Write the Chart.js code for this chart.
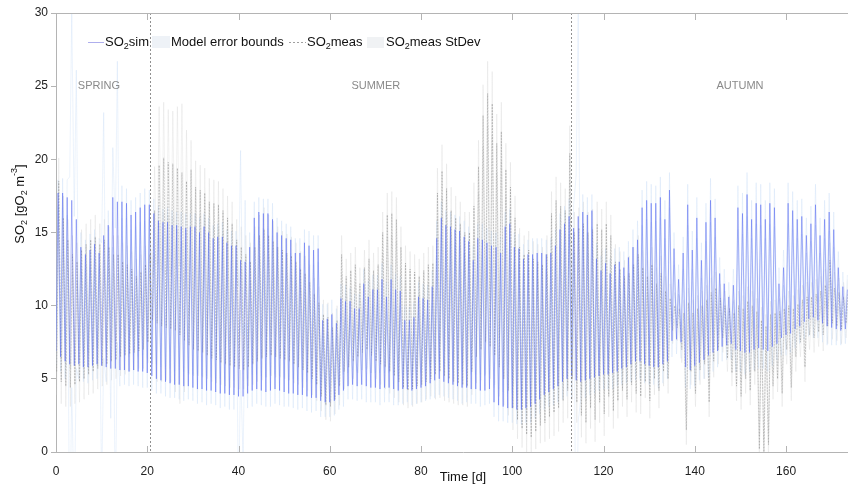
<!DOCTYPE html>
<html>
<head>
<meta charset="utf-8">
<title>SO2 simulated vs measured</title>
<script src="https://cdn.jsdelivr.net/npm/chart.js@4.4.1/dist/chart.umd.min.js"></script>
<style>
  html, body { margin: 0; padding: 0; background: #fff; overflow: hidden; }
  #wrap { width: 848px; height: 485px; overflow: hidden; }
</style>
</head>
<body>
<div id="wrap"><canvas id="so2" width="882" height="485"></canvas></div>
<script>
// daily peak / trough of measured SO2 [gO2 m-3], day 0 .. 173
const measHi = [
  17.7, 17.7, 17.4, 17.2, 15.9, 14.0, 13.5, 13.8, 14.2, 13.6,
  14.8, 15.5, 17.4, 17.1, 17.1, 17.0, 16.2, 16.4, 16.7, 16.9,
  16.9, 16.3, 15.8, 15.7, 15.7, 15.5, 15.5, 15.4, 15.3, 15.4,
  15.4, 15.0, 15.4, 15.0, 14.6, 14.7, 14.7, 14.3, 14.1, 14.1,
  13.1, 13.0, 14.0, 16.0, 16.4, 16.3, 16.3, 15.9, 15.0, 14.8,
  14.6, 14.5, 13.6, 13.6, 14.3, 14.1, 13.8, 13.9, 9.0, 9.1,
  9.4, 8.8, 10.5, 10.3, 10.3, 9.8, 9.8, 11.5, 10.6, 11.1,
  11.1, 11.8, 10.6, 11.8, 11.1, 11.0, 9.0, 9.0, 9.2, 10.6,
  10.5, 10.4, 11.3, 14.6, 16.0, 15.5, 15.4, 15.2, 15.1, 14.7,
  14.4, 13.1, 14.6, 14.5, 14.3, 14.1, 14.0, 13.6, 15.4, 15.6,
  14.0, 13.9, 13.2, 13.5, 13.5, 13.6, 13.6, 13.5, 13.6, 14.1,
  15.2, 15.6, 16.1, 15.3, 16.1, 16.4, 16.2, 16.5, 13.2, 12.4,
  12.9, 12.2, 12.8, 13.0, 12.6, 13.3, 14.0, 14.5, 16.7, 17.2,
  17.0, 17.0, 17.4, 15.9, 17.9, 13.9, 11.8, 13.6, 16.9, 13.8,
  16.0, 13.1, 15.7, 17.2, 16.0, 12.2, 11.5, 10.6, 11.4, 16.7,
  16.3, 17.6, 15.9, 17.0, 16.9, 15.9, 17.0, 16.7, 11.5, 12.6,
  17.0, 16.5, 15.9, 16.1, 14.8, 15.6, 16.9, 14.8, 15.9, 16.4,
  15.2, 12.6, 11.3, 11.1
];
const measLo = [
  6.9, 6.5, 6.2, 6.0, 5.9, 6.0, 5.8, 5.8, 5.9, 6.0,
  5.9, 5.8, 5.7, 5.7, 5.6, 5.6, 5.5, 5.6, 5.5, 5.5,
  5.4, 5.2, 5.0, 4.9, 4.8, 4.7, 4.6, 4.6, 4.5, 4.5,
  4.4, 4.3, 4.3, 4.2, 4.2, 4.1, 4.0, 4.0, 3.9, 3.9,
  3.8, 3.8, 4.0, 4.2, 4.3, 4.2, 4.1, 4.2, 4.3, 4.2,
  4.1, 4.0, 4.0, 3.9, 3.9, 3.8, 3.7, 3.7, 3.5, 3.4,
  3.4, 3.5, 3.9, 4.2, 4.5, 4.6, 4.5, 4.6, 4.5, 4.4,
  4.4, 4.3, 4.4, 4.4, 4.3, 4.2, 4.3, 4.3, 4.2, 4.3,
  4.4, 4.5, 4.7, 4.9, 5.0, 4.8, 4.7, 4.6, 4.5, 4.4,
  4.4, 4.3, 4.3, 4.2, 4.2, 4.3, 3.4, 3.2, 3.1, 3.0,
  3.0, 2.9, 2.9, 3.0, 3.1, 3.3, 3.6, 3.9, 4.1, 4.3,
  4.5, 4.8, 5.0, 5.2, 4.9, 4.8, 4.9, 5.0, 5.1, 5.2,
  5.3, 5.3, 5.4, 5.5, 5.7, 5.8, 6.0, 6.2, 6.2, 6.0,
  5.9, 5.8, 5.8, 6.0, 6.2, 7.6, 7.7, 7.5, 5.8, 5.6,
  5.9, 6.1, 6.3, 6.6, 6.8, 6.9, 7.2, 7.3, 7.4, 7.0,
  6.9, 6.8, 6.8, 7.0, 7.1, 7.0, 6.9, 7.2, 7.4, 7.8,
  8.0, 8.1, 8.4, 8.6, 8.9, 9.1, 9.2, 9.0, 8.8, 8.6,
  8.5, 8.4, 8.3, 8.4
];
// standard deviation of the measurements, per day
const measSd = [
  0.9, 1.0, 1.2, 12.8, 10.2, 1.0, 1.0, 1.1, 1.0, 1.0,
  8.4, 1.0, 3.4, 9.6, 1.1, 1.0, 1.0, 1.0, 1.0, 1.1,
  1.0, 1.0, 1.0, 0.9, 1.0, 1.0, 0.9, 1.0, 1.0, 0.9,
  0.9, 1.0, 0.9, 1.0, 0.9, 0.9, 1.0, 0.9, 1.0, 1.0,
  7.5, 4.2, 1.0, 1.1, 1.0, 1.0, 1.0, 1.1, 1.0, 1.0,
  1.0, 0.9, 1.0, 1.0, 0.9, 1.0, 1.0, 0.9, 1.1, 1.0,
  1.0, 1.0, 1.0, 1.1, 0.9, 1.0, 1.0, 1.0, 1.1, 1.0,
  1.0, 1.1, 1.0, 1.0, 1.1, 1.0, 1.0, 0.9, 1.0, 1.0,
  1.0, 1.0, 1.1, 1.2, 1.1, 1.0, 1.0, 1.0, 1.0, 1.1,
  1.0, 1.0, 1.0, 1.1, 1.0, 1.0, 1.0, 1.1, 1.0, 1.0,
  1.0, 1.0, 1.0, 1.0, 1.1, 1.0, 1.0, 1.0, 1.0, 1.1,
  1.1, 1.2, 1.2, 1.6, 14.0, 1.2, 1.2, 1.1, 1.1, 1.0,
  1.0, 1.0, 1.1, 1.0, 1.1, 1.1, 1.2, 1.3, 1.2, 1.3,
  1.3, 1.2, 1.4, 1.3, 1.2, 1.1, 1.0, 1.1, 1.4, 1.3,
  1.4, 1.2, 1.3, 1.5, 1.3, 1.1, 1.0, 1.0, 1.1, 1.5,
  1.4, 1.5, 1.3, 1.4, 1.4, 1.3, 1.4, 1.3, 1.1, 1.2,
  1.4, 1.3, 1.3, 1.2, 1.2, 1.2, 1.4, 1.2, 1.3, 1.3,
  1.2, 1.1, 1.0, 1.0
];
// daily peak / trough of simulated SO2
const simHi = [
  18.5, 16.0, 14.5, 13.5, 13.0, 13.8, 14.2, 14.5, 14.7, 14.2,
  14.5, 14.0, 13.5, 13.5, 13.0, 12.8, 12.5, 12.0, 12.3, 12.8,
  13.5, 16.5, 19.6, 20.1, 19.8, 19.7, 19.4, 19.1, 18.5, 19.3,
  18.1, 17.9, 17.7, 17.1, 17.0, 16.9, 16.5, 16.0, 15.6, 14.5,
  14.0, 13.5, 13.0, 14.0, 14.8, 15.2, 14.8, 14.4, 14.0, 13.8,
  13.6, 13.4, 13.0, 12.5, 12.2, 11.6, 10.8, 10.2, 9.4, 9.2,
  8.5, 9.0, 13.5, 12.0, 12.4, 12.8, 11.5, 12.6, 13.2, 12.4,
  12.8, 15.0, 16.2, 16.3, 15.9, 14.0, 12.9, 12.5, 12.3, 12.0,
  12.4, 12.8, 12.9, 17.7, 19.2, 18.0, 16.5, 16.0, 15.6, 15.0,
  15.0, 16.8, 19.5, 23.0, 24.5, 23.8, 21.1, 21.9, 19.3, 18.1,
  16.0, 14.0, 13.5, 13.8, 13.2, 13.0, 12.8, 13.5, 16.3, 17.2,
  16.8, 16.5, 20.4, 15.0, 15.3, 15.6, 15.0, 15.2, 15.6, 15.2,
  15.6, 14.8, 13.0, 12.5, 12.0, 12.2, 12.8, 13.5, 12.6, 12.0,
  12.8, 11.5, 12.2, 11.0, 10.5, 10.0, 9.8, 9.5, 10.2, 9.5,
  9.8, 10.0, 10.4, 10.9, 11.2, 10.5, 10.0, 9.8, 9.5, 10.0,
  9.8, 10.3, 10.0, 9.6, 9.0, 8.6, 9.4, 9.5, 9.6, 9.8,
  10.0, 9.8, 10.1, 10.4, 10.6, 10.6, 10.8, 11.0, 11.4, 13.1,
  11.2, 10.9, 10.6, 10.8
];
const simLo = [
  5.5, 4.8, 4.5, 4.4, 4.6, 4.8, 5.0, 5.3, 5.5, 5.7,
  5.9, 6.0, 6.2, 6.3, 6.5, 6.6, 6.7, 6.8, 6.9, 7.0,
  7.5, 9.0, 8.8, 8.6, 8.5, 8.4, 8.3, 8.0, 7.6, 7.3,
  7.0, 6.9, 6.8, 6.6, 6.4, 6.3, 6.1, 6.0, 5.9, 5.8,
  5.7, 5.6, 5.8, 6.0, 6.2, 6.4, 6.5, 6.6, 6.5, 6.4,
  6.3, 6.2, 6.0, 5.8, 5.6, 5.4, 5.0, 4.6, 3.8, 3.2,
  3.1, 3.6, 4.5, 5.5, 5.8, 6.2, 6.5, 6.8, 7.0, 6.6,
  6.2, 6.0, 5.8, 5.5, 5.2, 4.8, 4.4, 4.2, 4.3, 4.5,
  4.6, 4.8, 5.0, 5.3, 5.5, 5.2, 5.0, 4.8, 4.7, 4.6,
  4.5, 5.5, 6.5, 7.0, 7.5, 7.2, 6.6, 5.8, 5.0, 4.2,
  3.0, 2.2, 1.6, 1.2, 1.0, 1.4, 1.8, 2.0, 2.4, 2.7,
  3.0, 3.5, 4.2, 5.0, 3.4, 2.5, 2.0, 3.0, 2.2, 3.4,
  2.6, 3.8, 2.8, 3.5, 4.2, 3.6, 4.6, 4.0, 3.8, 4.8,
  3.5, 5.0, 4.2, 5.5, 5.0, 8.3, 8.5, 7.0, 1.5, 5.5,
  4.0, 5.6, 6.0, 3.4, 6.2, 7.0, 7.8, 6.4, 5.4, 4.5,
  3.8, 5.0, 4.2, 5.5, 0.2, 0.0, 0.5, 4.5, 5.0, 4.0,
  7.0, 4.4, 6.5, 7.5, 5.8, 8.0, 7.8, 8.2, 8.0, 8.6,
  8.8, 8.6, 8.4, 8.8
];
// half width of the model error band, per day
const simErr = [
  1.6, 1.5, 1.4, 1.3, 1.3, 1.4, 1.4, 1.4, 1.5, 1.4,
  1.4, 1.4, 1.3, 1.3, 1.3, 1.3, 1.2, 1.2, 1.2, 1.3,
  1.4, 3.0, 4.0, 3.8, 3.6, 3.6, 4.2, 4.7, 3.5, 2.0,
  1.8, 1.7, 1.7, 1.6, 1.6, 1.6, 1.5, 1.5, 1.5, 1.4,
  1.4, 1.3, 1.3, 1.4, 1.4, 1.5, 1.4, 1.4, 1.4, 1.3,
  1.3, 1.3, 1.3, 1.2, 1.2, 1.2, 1.1, 1.1, 1.0, 1.0,
  1.0, 1.0, 1.3, 1.2, 1.2, 1.2, 1.1, 1.2, 1.3, 1.2,
  1.2, 1.4, 1.5, 1.5, 1.5, 1.4, 1.2, 1.2, 1.2, 1.2,
  1.2, 1.2, 1.2, 1.7, 1.8, 1.7, 1.6, 1.5, 1.5, 1.4,
  1.4, 1.6, 1.8, 2.1, 2.2, 2.2, 2.0, 2.0, 1.8, 1.7,
  1.5, 1.3, 1.3, 1.3, 1.2, 1.2, 1.2, 1.3, 1.5, 1.6,
  1.6, 1.5, 1.9, 1.4, 1.4, 1.5, 1.4, 1.4, 1.5, 1.4,
  1.5, 1.4, 1.2, 1.2, 1.1, 1.2, 1.2, 1.3, 1.2, 1.1,
  1.2, 1.1, 1.2, 1.0, 1.0, 0.9, 0.9, 0.9, 1.0, 0.9,
  0.9, 1.0, 1.0, 1.0, 1.1, 1.0, 1.0, 0.9, 0.9, 1.0,
  0.9, 1.0, 1.0, 0.9, 0.9, 0.8, 0.9, 0.9, 0.9, 0.9,
  1.0, 0.9, 1.0, 1.0, 1.0, 1.0, 1.0, 1.0, 1.1, 1.2,
  1.1, 1.0, 1.0, 1.0
];

const xTicks = [0, 20, 40, 60, 80, 100, 120, 140, 160];
const yTicks = [0, 5, 10, 15, 20, 25, 30];
const seasonBreaks = [20.6, 112.9];
const seasonNames = ['SPRING', 'SUMMER', 'AUTUMN'];
const seasonLabelDays = [9.4, 70.1, 149.9];

const SANS = "'Liberation Sans', Arial, sans-serif";

// trough at the start of each day, peak a bit later
function dailyCurve(lo, hi, loAt, hiAt, shift) {
  const pts = [];
  for (let d = 0; d < lo.length; d++) {
    const s = shift ? shift[d] : 0;
    pts.push({ x: d + loAt, y: lo[d] + s });
    pts.push({ x: d + hiAt, y: hi[d] + s });
  }
  return pts;
}
const neg = a => a.map(v => -v);

const measLine = dailyCurve(measLo, measHi, 0, 0.45);
const sdUpper = dailyCurve(measLo, measHi, 0, 0.45, measSd);
const sdLower = dailyCurve(measLo, measHi, 0, 0.45, neg(measSd));
const simLine = dailyCurve(simLo, simHi, 0.15, 0.6);
const errUpper = dailyCurve(simLo, simHi, 0.15, 0.6, simErr);
const errLower = dailyCurve(simLo, simHi, 0.15, 0.6, neg(simErr));

const line = (data, color, width, order, extra) => Object.assign({
  data, borderColor: color, borderWidth: width, pointRadius: 0,
  tension: 0, fill: false, order
}, extra || {});

// draw text pieces with sub / superscripts, returns the end x
function richText(ctx, x, y, parts, size) {
  parts.forEach(([t, kind]) => {
    const sz = kind ? Math.round(size * 0.72) : size;
    const dy = kind === 'sub' ? size * 0.35 : kind === 'sup' ? -size * 0.4 : 0;
    ctx.font = sz + 'px ' + SANS;
    ctx.fillText(t, x, y + dy);
    x += ctx.measureText(t).width;
  });
  return x;
}
function richWidth(ctx, parts, size) {
  let w = 0;
  parts.forEach(([t, kind]) => {
    ctx.font = (kind ? Math.round(size * 0.72) : size) + 'px ' + SANS;
    w += ctx.measureText(t).width;
  });
  return w;
}

const decorations = {
  id: 'decorations',
  afterDatasetsDraw(chart) {
    const { ctx, chartArea: a, scales: { x, y } } = chart;
    ctx.save();
    // season borders
    ctx.strokeStyle = 'rgba(125,125,125,0.85)';
    ctx.lineWidth = 1;
    ctx.setLineDash([2, 2]);
    seasonBreaks.forEach(d => {
      const px = Math.round(x.getPixelForValue(d)) + 0.5;
      ctx.beginPath();
      ctx.moveTo(px, a.top);
      ctx.lineTo(px, a.bottom);
      ctx.stroke();
    });
    ctx.setLineDash([]);

    // season names
    ctx.fillStyle = '#8a8a8a';
    ctx.font = '11px ' + SANS;
    ctx.textAlign = 'center';
    ctx.textBaseline = 'middle';
    seasonNames.forEach((n, i) => {
      ctx.fillText(n, x.getPixelForValue(seasonLabelDays[i]), y.getPixelForValue(25));
    });

    // box: top edge and inward x ticks
    ctx.strokeStyle = '#b4b4b4';
    ctx.beginPath();
    ctx.moveTo(a.left, a.top + 0.5);
    ctx.lineTo(a.right, a.top + 0.5);
    xTicks.forEach(v => {
      const px = Math.round(x.getPixelForValue(v)) + 0.5;
      ctx.moveTo(px, a.top);
      ctx.lineTo(px, a.top + 7);
      ctx.moveTo(px, a.bottom);
      ctx.lineTo(px, a.bottom - 6);
    });
    ctx.stroke();
    ctx.restore();
  },
  afterDraw(chart) {
    const { ctx } = chart;
    ctx.save();
    ctx.fillStyle = '#111';
    ctx.textAlign = 'left';
    ctx.textBaseline = 'middle';

    // y axis title
    const yt = [['SO'], ['2', 'sub'], [' [gO'], ['2', 'sub'], [' m'], ['-3', 'sup'], [']']];
    ctx.save();
    ctx.translate(20, 204);
    ctx.rotate(-Math.PI / 2);
    richText(ctx, -richWidth(ctx, yt, 13) / 2, 0, yt, 13);
    ctx.restore();

    // legend
    const ly = 42;
    ctx.strokeStyle = 'rgba(165,165,235,0.9)';
    ctx.lineWidth = 1;
    ctx.beginPath();
    ctx.moveTo(88, ly + 0.5);
    ctx.lineTo(104, ly + 0.5);
    ctx.stroke();
    richText(ctx, 105, ly, [['SO'], ['2', 'sub'], ['sim']], 13);

    ctx.fillStyle = '#eef2f7';
    ctx.fillRect(152, 36, 18, 12);
    ctx.fillStyle = '#111';
    richText(ctx, 171, ly, [['Model error bounds']], 13);

    ctx.strokeStyle = 'rgba(150,150,150,0.9)';
    ctx.setLineDash([2, 2]);
    ctx.beginPath();
    ctx.moveTo(289, ly + 0.5);
    ctx.lineTo(306, ly + 0.5);
    ctx.stroke();
    ctx.setLineDash([]);
    richText(ctx, 307, ly, [['SO'], ['2', 'sub'], ['meas']], 13);

    ctx.fillStyle = '#f0f2f4';
    ctx.fillRect(367, 37, 17, 11);
    ctx.fillStyle = '#111';
    richText(ctx, 386, ly, [['SO'], ['2', 'sub'], ['meas StDev']], 13);
    ctx.restore();
  }
};

new Chart(document.getElementById('so2'), {
  type: 'line',
  data: {
    datasets: [
      line(measLine, 'rgba(75,95,240,0.65)', 0.7, 0),
      line(simLine, 'rgba(115,115,115,0.5)', 0.7, 1, { borderDash: [2, 1] }),
      line(sdUpper, 'rgba(195,218,246,0.45)', 0.7, 2),
      line(sdLower, 'rgba(195,218,246,0.45)', 0.7, 2),
      line(errUpper, 'rgba(210,210,210,0.4)', 0.7, 3),
      line(errLower, 'rgba(210,210,210,0.4)', 0.7, 3)
    ]
  },
  options: {
    responsive: false,
    animation: false,
    devicePixelRatio: 1,
    parsing: false,
    layout: { padding: { top: 13, right: 12, left: 0, bottom: 0 } },
    plugins: { legend: { display: false }, tooltip: { enabled: false } },
    scales: {
      x: {
        type: 'linear',
        min: 0,
        max: 178.4,
        afterBuildTicks: s => { s.ticks = xTicks.map(v => ({ value: v })); },
        afterFit: s => { s.height = 33; },
        grid: { display: false },
        border: { color: '#b4b4b4' },
        ticks: { color: '#222', padding: 4, maxRotation: 0, font: { family: SANS, size: 12 } },
        title: {
          display: true, text: 'Time [d]', color: '#111', padding: 0,
          font: { family: SANS, size: 13 }
        }
      },
      y: {
        min: 0,
        max: 30,
        afterBuildTicks: s => { s.ticks = yTicks.map(v => ({ value: v })); },
        afterFit: s => { s.width = 56; },
        grid: { drawOnChartArea: false, tickLength: 5, color: '#b4b4b4' },
        border: { color: '#b4b4b4' },
        ticks: { color: '#222', padding: 3, font: { family: SANS, size: 12 } }
      }
    }
  },
  plugins: [decorations]
});
</script>
</body>
</html>
